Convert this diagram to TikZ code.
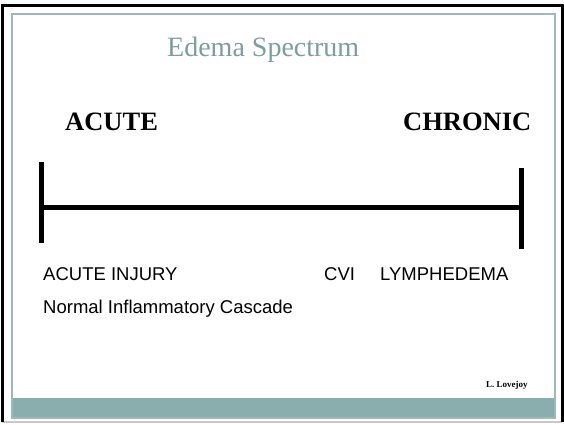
\documentclass[tikz,border=0pt]{standalone}
\usepackage{fontspec}
\setmainfont{Liberation Serif}
\newfontfamily\arialfont{Liberation Sans}
\definecolor{titlecol}{HTML}{7B9E9F}
\definecolor{bandcol}{HTML}{8AAEAD}
\definecolor{framecol}{HTML}{9DBABA}
\definecolor{shadowcol}{HTML}{C8C8C8}
\begin{document}
\begin{tikzpicture}[x=1pt,y=-1pt,
  heading/.style={font=\fontsize{26.5}{30}\selectfont\bfseries, anchor=base west, inner sep=0pt},
  label/.style={font=\arialfont\fontsize{18.5}{21}\selectfont, anchor=base west, inner sep=0pt},
  tick/.style={line width=5pt}]
\useasboundingbox (0,0) rectangle (564,424);
\fill[white] (0,0) rectangle (564,424);
% outer frame
\draw[shadowcol, line width=2pt] (2,421.5) -- (562,421.5);
\draw[black, line width=3pt] (2,422) -- (2,5) -- (562,5) -- (562,422);
% inner frame and band
\fill[bandcol] (12,398) rectangle (555,418);
\draw[framecol, line width=1.5pt] (12,14) rectangle (555,418);
% title
\node[font=\fontsize{28}{32}\selectfont, text=titlecol, anchor=base west, inner sep=0pt] (title) at (167,56) {Edema Spectrum};
\node[heading] (acute) at (65,130) {ACUTE};
\node[heading] (chronic) at (403,130) {CHRONIC};
% timeline
\coordinate (lt) at (41.5,162);
\coordinate (lb) at (41.5,243);
\coordinate (rt) at (521.5,168);
\coordinate (rb) at (521.5,249);
\coordinate (lm) at (41.5,207.5);
\coordinate (rm) at (521.5,207.5);
\draw[tick] (lt) -- (lb);
\draw[tick] (rt) -- (rb);
\draw[tick] (lm) -- (rm);
% labels
\node[label] (injury) at (43,280) {ACUTE INJURY};
\node[label] (cvi) at (324,280) {CVI};
\node[label] (lymph) at (380,280) {LYMPHEDEMA};
\node[label] (cascade) at (43,313) {Normal Inflammatory Cascade};
\node[font=\fontsize{9}{10}\selectfont\bfseries, anchor=base west, inner sep=0pt] (author) at (486,387) {L. Lovejoy};
\end{tikzpicture}
\end{document}
